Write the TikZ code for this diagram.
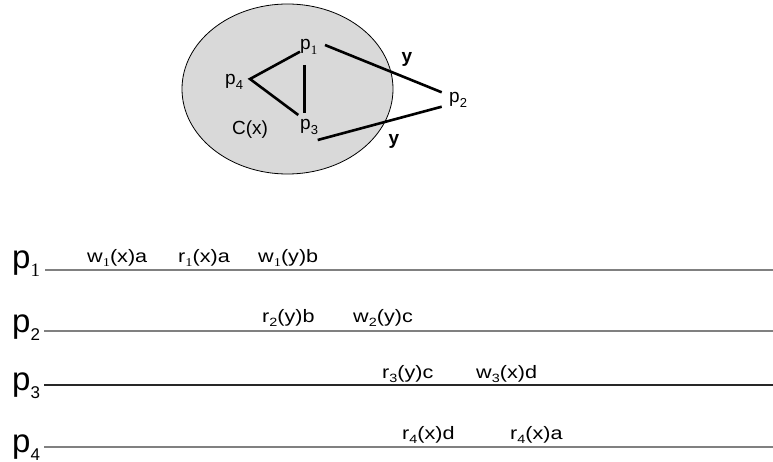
\documentclass[tikz,border=0pt]{standalone}
\usepackage{fontspec}
\setmainfont{Liberation Sans}
\newfontfamily\serifone{Liberation Serif}
% subscript helpers
\newcommand\tsb[1]{\raisebox{-4pt}{\fontsize{12}{12}\selectfont #1}}
\newcommand\tone{\raisebox{-4pt}{\fontsize{12}{12}\selectfont\serifone 1}}
\newcommand\esb[1]{\raisebox{-5pt}{\fontsize{13}{13}\selectfont #1}}
\newcommand\eone{\raisebox{-5pt}{\fontsize{13}{13}\selectfont\serifone 1}}
\newcommand\bsb[1]{\raisebox{-8pt}{\fontsize{17}{17}\selectfont #1}}
\newcommand\bone{\raisebox{-8pt}{\fontsize{19}{19}\selectfont\serifone 1}}
\definecolor{ellfill}{RGB}{217,217,217}
\definecolor{linegray}{RGB}{128,128,128}
\definecolor{linedark}{RGB}{40,40,40}
\tikzset{
  elab/.style={inner sep=0pt, anchor=base west, font=\fontsize{19}{19}\selectfont},
  ylab/.style={inner sep=0pt, font=\fontsize{19}{19}\selectfont\bfseries},
  edge/.style={line width=2.6pt},
  plab/.style={inner sep=0pt, anchor=base west, font=\fontsize{33}{33}\selectfont},
  oplab/.style={inner sep=0pt, anchor=base west, font=\fontsize{18}{18}\selectfont, xscale=1.2},
  tline/.style={line width=1.5pt, draw=linegray},
}
\begin{document}
\begin{tikzpicture}[x=1pt,y=-1pt]
\useasboundingbox (0,0) rectangle (773,462);
% ellipse
\draw[fill=ellfill, line width=0.8pt] (287.5,89) ellipse [x radius=105.5, y radius=85];
% labels in graph
\node[elab] (gp1) at (300,50) {p\eone};
\node[elab] (gp4) at (225,85) {p\esb{4}};
\node[elab] (gp3) at (300,130) {p\esb{3}};
\node[elab] (gp2) at (449,103) {p\esb{2}};
\node[elab] (cx) at (232,134.5) {C(x)};
\node[ylab] (y1) at (407,59) {y};
\node[ylab] (y2) at (394,141) {y};
% edge endpoints
\coordinate (p4v) at (250,79);
\coordinate (p1a) at (300,51.7);
\coordinate (p1b) at (304.3,65);
\coordinate (p3b) at (304.3,113);
\coordinate (p3a) at (298.3,115);
\coordinate (p1c) at (325,45);
\coordinate (p2a) at (441.7,92.3);
\coordinate (p2b) at (441.7,106.7);
\coordinate (p3c) at (317.7,140);
\draw[edge] (p1a) -- (p4v) -- (p3a);
\draw[edge] (p1b) -- (p3b);
\draw[edge] (p1c) -- (p2a);
\draw[edge] (p3c) -- (p2b);
% timelines
\node[plab] (L1) at (12,269) {p\bone};
\node[plab] (L2) at (12,332) {p\bsb{2}};
\node[plab] (L3) at (12,390) {p\bsb{3}};
\node[plab] (L4) at (12,452) {p\bsb{4}};
\coordinate (e1) at (773,270);
\coordinate (e2) at (773,331);
\coordinate (e3) at (773,385);
\coordinate (e4) at (773,447);
\coordinate (s1) at (45,270);
\coordinate (s2) at (44,331);
\coordinate (s3) at (44,385);
\coordinate (s4) at (44,447);
\draw[tline] (s1) -- (e1);
\draw[tline] (s2) -- (e2);
\draw[tline, draw=linedark] (s3) -- (e3);
\draw[tline] (s4) -- (e4);
% operations
\node[oplab] (o11) at (87,262) {w\tone(x)a};
\node[oplab] (o12) at (178,262) {r\tone(x)a};
\node[oplab] (o13) at (258,262) {w\tone(y)b};
\node[oplab] (o21) at (262,322) {r\tsb{2}(y)b};
\node[oplab] (o22) at (353,322) {w\tsb{2}(y)c};
\node[oplab] (o31) at (382,378) {r\tsb{3}(y)c};
\node[oplab] (o32) at (476,378) {w\tsb{3}(x)d};
\node[oplab] (o41) at (402,439) {r\tsb{4}(x)d};
\node[oplab] (o42) at (510,439) {r\tsb{4}(x)a};
\end{tikzpicture}
\end{document}
